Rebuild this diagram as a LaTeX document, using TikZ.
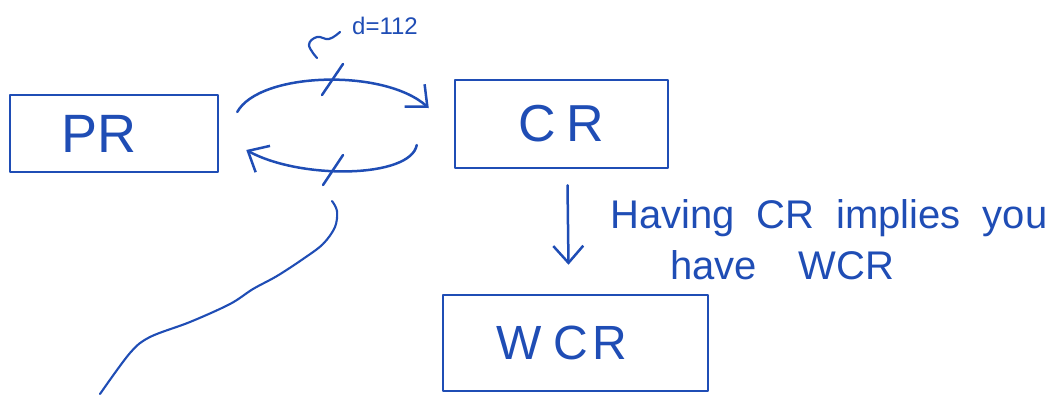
\documentclass[tikz,border=0pt]{standalone}
\usepackage{fontspec}
\setmainfont{Liberation Sans}
\usetikzlibrary{arrows.meta}
\definecolor{ink}{HTML}{1F4DB5}
\begin{document}
\begin{tikzpicture}[x=1pt,y=1pt,
  pen/.style={draw=ink,line width=2.5pt,line cap=round,line join=round},
  statebox/.style={pen,rectangle,inner sep=0pt,text=ink},
  barb/.style={-{Straight Barb[length=17pt,width=30pt,line width=2.5pt]}},
  note/.style={text=ink,inner sep=0pt,anchor=base west}]
\useasboundingbox (0,0) rectangle (1062,-394);

% the three boxes
\node[statebox,minimum width=208,minimum height=77,font=\fontsize{54}{60}\selectfont] (pr) at (114,-133.5) {PR\kern30pt\null};
\node[statebox,minimum width=213,minimum height=88,font=\fontsize{52}{60}\selectfont] (cr) at (561.5,-124) {C\hspace{10pt}R};
\node[statebox,minimum width=265,minimum height=96,font=\fontsize{48}{56}\selectfont] (wcr) at (575.5,-343) {W\hspace{12pt}C\hspace{4pt}R\kern28pt\null};

% two-way arcs between PR and CR
\coordinate (t0) at ([shift={(18,21.5)}]pr.east);
\coordinate (t1) at ([shift={(-25,16)}]cr.west);
\coordinate (b0) at ([shift={(-37,-21)}]cr.west);
\coordinate (b1) at ([shift={(27,-16.5)}]pr.east);
\draw[pen,barb] (t0) .. controls ++(22,40) and ++(-45,40) .. (t1);
\draw[pen,barb] (b0) .. controls ++(-6,-33) and ++(55,-30) .. (b1);

% strike marks across the arcs
\coordinate (tm) at (332,-80);
\coordinate (bm) at (333,-170);
\draw[pen] ([shift={(-10,-15)}]tm) -- ([shift={(11,16)}]tm);
\draw[pen] ([shift={(-10,-15)}]bm) -- ([shift={(10,15)}]bm);

% annotation on the upper arc
\coordinate (sq) at (317,-58);
\draw[pen,line width=2.2pt] plot[smooth,tension=0.7] coordinates {
  (sq) (309,-45) (317,-37) (329,-39) (340,-32)};
\node[note,font=\fontsize{24}{28}\selectfont] (dlabel) at (352,-34) {d=112};

% long stroke leaving the lower arc
\coordinate (lc) at (332,-201);
\draw[pen,line width=2.1pt] plot[smooth,tension=0.55] coordinates {
  (lc) (337,-211) (335,-227) (323,-244) (303,-259) (277,-276) (253,-289)
  (230,-304) (190,-322) (150,-337) (130,-353) (100,-394)};

% implication arrow from CR down to WCR
\coordinate (a0) at ([shift={(6,-16)}]cr.south);
\coordinate (a1) at ([shift={(-7,29)}]wcr.north);
\draw[pen,barb] (a0) -- (a1);

% explanation beside the arrow
\node[note,font=\fontsize{40}{46}\selectfont] (n1) at (610,-228) {Having\hspace{22pt}CR\hspace{22pt}implies\hspace{22pt}you};
\node[note,font=\fontsize{40}{46}\selectfont] (n2) at (670,-279) {have\hspace{42pt}WCR};
\end{tikzpicture}
\end{document}
